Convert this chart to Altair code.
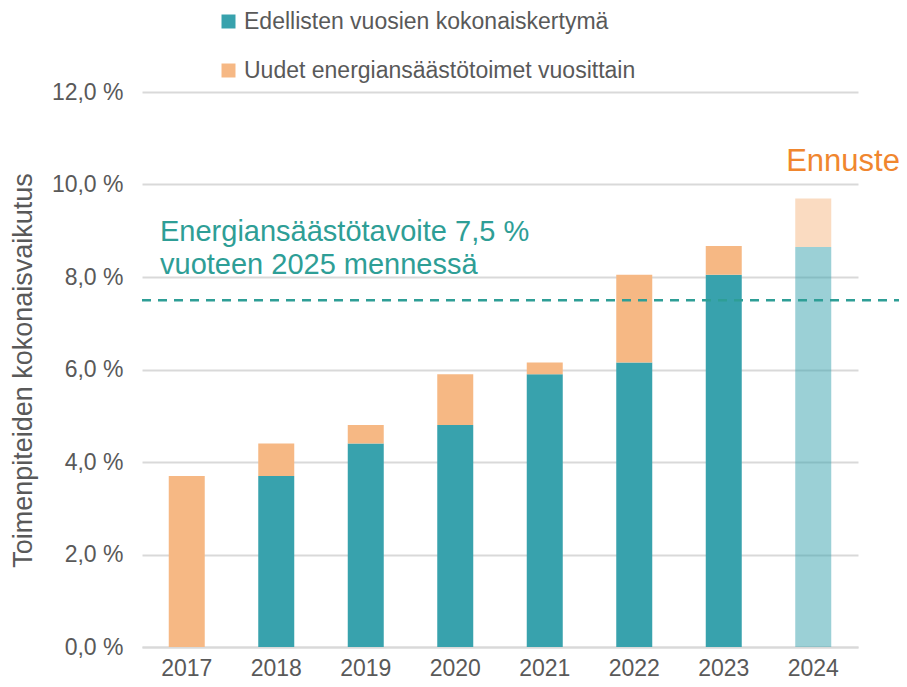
import altair as alt
import pandas as pd

YEARS = ["2017", "2018", "2019", "2020", "2021", "2022", "2023", "2024"]
CUMULATIVE = [0.0, 3.7, 4.4, 4.8, 5.9, 6.15, 8.05, 8.65]
NEW_MEASURES = [3.7, 0.7, 0.4, 1.1, 0.25, 1.9, 0.62, 1.05]
SERIES = ["Edellisten vuosien kokonaiskertymä", "Uudet energiansäästötoimet vuosittain"]
COLORS = ["#38A2AD", "#F6B884"]
FORECAST_YEAR = "2024"
TARGET = 7.5
TARGET_LINES = ["Energiansäästötavoite 7,5 %", "vuoteen 2025 mennessä"]
FORECAST_LABEL = "Ennuste"
Y_TITLE = "Toimenpiteiden kokonaisvaikutus"
Y_TICKS = [0, 2, 4, 6, 8, 10, 12]

rows = []
for y, c, n in zip(YEARS, CUMULATIVE, NEW_MEASURES):
    rows.append({"year": y, "series": SERIES[0], "value": c, "order": 0})
    rows.append({"year": y, "series": SERIES[1], "value": n, "order": 1})
df = pd.DataFrame(rows)
one = pd.DataFrame({"target": [TARGET]})

FONT = "Liberation Sans, Arial, sans-serif"
GRAY = "#595959"

bars = alt.Chart(df).mark_bar(width=36).encode(
    x=alt.X("year:N", sort=YEARS, title=None,
            scale=alt.Scale(paddingInner=0, paddingOuter=0),
            axis=alt.Axis(labelAngle=0, ticks=False, labelPadding=10,
                          labelFontSize=23, labelColor=GRAY, labelFont=FONT,
                          domainColor="#D9D9D9", domainWidth=2, grid=False)),
    y=alt.Y("value:Q", stack="zero", title=Y_TITLE,
            scale=alt.Scale(domain=[0, 12], nice=False),
            axis=alt.Axis(values=Y_TICKS, ticks=False, domain=False,
                          labelExpr="replace(format(datum.value, '.1f'), '.', ',') + ' %'",
                          labelFontSize=23, labelColor=GRAY, labelFont=FONT,
                          labelPadding=19, gridColor="#D9D9D9", gridWidth=2,
                          titleFontSize=27, titleFontWeight="normal", titleColor=GRAY,
                          titleFont=FONT, titleX=-119, titleY=278, titleAngle=270,
                          titleAlign="center", titleBaseline="middle")),
    color=alt.Color("series:N", scale=alt.Scale(domain=SERIES, range=COLORS),
                    legend=alt.Legend(title=None, orient="none", legendX=75, legendY=-82,
                                      direction="vertical", symbolType="square",
                                      symbolSize=196, symbolStrokeWidth=0,
                                      labelFontSize=23, labelColor=GRAY, labelFont=FONT,
                                      labelLimit=0, rowPadding=25, labelOffset=4, padding=0)),
    order=alt.Order("order:Q", sort="ascending"),
    opacity=alt.condition(alt.datum.year == FORECAST_YEAR, alt.value(0.5), alt.value(1.0)),
)

target_rule = alt.Chart(one).mark_rule(color="#2E9E96", strokeDash=[9, 7], strokeWidth=2.5).encode(
    y=alt.Y("target:Q"), x=alt.value(0), x2=alt.value(757)
)

txt1 = alt.Chart(one).mark_text(align="left", baseline="middle", fontSize=29, font=FONT,
                                color="#2E9E96", text=TARGET_LINES[0]).encode(
    x=alt.value(18), y=alt.value(140))
txt2 = alt.Chart(one).mark_text(align="left", baseline="middle", fontSize=29, font=FONT,
                                color="#2E9E96", text=TARGET_LINES[1]).encode(
    x=alt.value(18), y=alt.value(173))
ennuste = alt.Chart(one).mark_text(align="center", baseline="middle", fontSize=31, font=FONT,
                                   color="#F0862E", text=FORECAST_LABEL).encode(
    x=alt.value(701), y=alt.value(70))

chart = alt.layer(bars, target_rule, txt1, txt2, ennuste).properties(
    width=716, height=555,
    autosize=alt.AutoSizeParams(type="none"),
    padding={"left": 134, "top": 84, "right": 41, "bottom": 32},
).configure(font=FONT).configure_view(stroke="transparent", strokeWidth=0)

chart.save("out.html", embed_options={"renderer": "svg", "actions": False})
